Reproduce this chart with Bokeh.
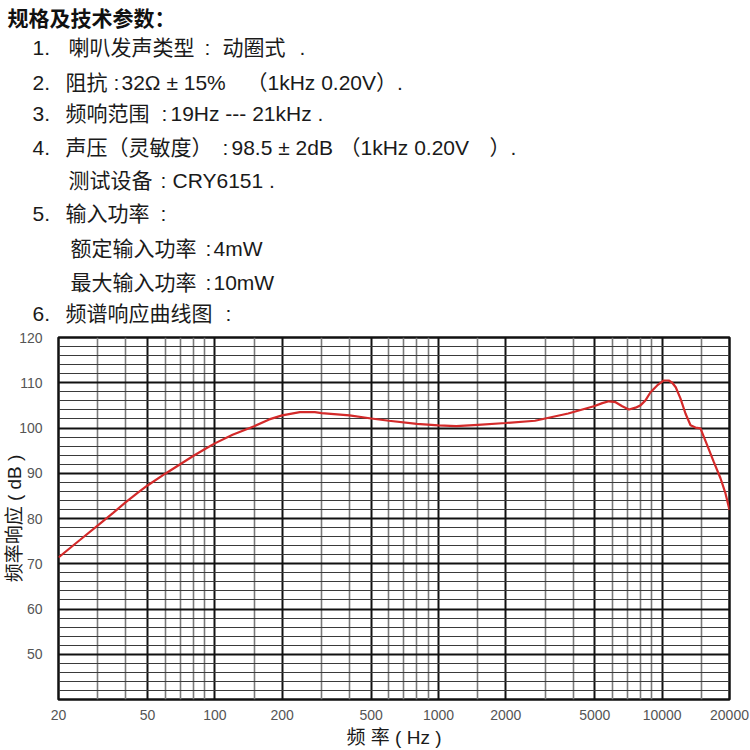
from bokeh.plotting import figure
from bokeh.layouts import column
from bokeh.models import FixedTicker, Label, PrintfTickFormatter
from bokeh.embed import file_html
from bokeh.resources import INLINE

# ---- data ----
freq_hz = [20, 25, 30, 35, 40, 45, 50, 60, 70, 80, 90, 100,
           120, 150, 175, 200, 240, 280, 300, 400, 500, 600, 800,
           1000, 1200, 1500, 2000, 2700, 3800, 4950, 5400, 5780, 6190,
           6630, 7100, 7600, 8000, 8420, 8870, 9500, 10170, 10700, 11090,
           11500, 12080, 12710, 13390, 14090, 14830, 15890, 17010, 18230, 19180,
           20000]
spl_db = [71.4, 75.3, 78.5, 81.2, 83.6, 85.6, 87.3, 89.9, 92.0, 93.8, 95.3, 96.6,
          98.5, 100.4, 101.9, 102.8, 103.5, 103.5, 103.3, 102.8, 102.1, 101.6, 100.9,
          100.6, 100.4, 100.7, 101.1, 101.6, 103.2, 104.8, 105.5, 105.9, 105.7,
          104.8, 104.1, 104.5, 105.0, 106.1, 107.9, 109.4, 110.5, 110.5, 110.0,
          109.0, 106.5, 103.2, 100.6, 100.1, 99.9, 96.2, 92.5, 88.9, 85.6,
          81.9]

x_tick_values = [20, 50, 100, 200, 500, 1000, 2000, 5000, 10000, 20000]
y_tick_values = [50, 60, 70, 80, 90, 100, 110, 120]
x_major_grid = [50, 100, 200, 500, 1000, 2000, 5000, 10000]
x_minor_grid = [30, 40, 60, 70, 80, 90, 150, 300, 400, 600, 700, 800, 900,
                1500, 3000, 4000, 6000, 7000, 8000, 9000, 15000]
y_major_grid = [50, 60, 70, 80, 90, 100, 110]
y_minor_grid = [v for v in range(42, 120, 2) if v % 10 != 0]

title_text = "规格及技术参数："
item_numbers = ["1.", "2.", "3.", "4.", "5.", "6."]
item_segments = [
    ["喇叭发声类型", ":", "动圈式", "."],
    ["阻抗", ":", "32Ω ± 15%", "（1kHz 0.20V）."],
    ["频响范围", ":", "19Hz --- 21kHz ."],
    ["声压（灵敏度）", ":", "98.5 ± 2dB", "（1kHz 0.20V", "）."],
    ["测试设备", ":", "CRY6151 ."],
    ["输入功率", ":"],
    ["额定输入功率", ":", "4mW"],
    ["最大输入功率", ":", "10mW"],
    ["频谱响应曲线图", ":"],
]
x_title = "频 率 ( Hz )"
y_title = "频率响应 ( dB )"

FONT = "Liberation Sans, Noto Sans CJK SC"
HEAD_H = 325

# ---------------- header (specification text) ----------------
head = figure(width=750, height=HEAD_H, x_range=(0, 750), y_range=(HEAD_H, 0),
              x_axis_type=None, y_axis_type=None,
              output_backend="svg", toolbar_location=None,
              min_border=0, min_border_left=0, min_border_right=0,
              min_border_top=0, min_border_bottom=0)
head.frame_align = False
head.title.visible = False
head.grid.visible = False
head.outline_line_color = None
head.background_fill_color = "white"
head.border_fill_color = "white"

head.add_layout(Label(x=7, y=16, text=title_text, text_align="left",
                      text_baseline="middle", text_font="Noto Sans CJK SC",
                      text_font_style="bold", text_font_size="21px",
                      text_color="#111111"))

num_rows_y = [47, 82, 113, 147, 213, 313]
for t, yy in zip(item_numbers, num_rows_y):
    head.add_layout(Label(x=32, y=yy, text=t, text_align="left",
                          text_baseline="middle", text_font=FONT,
                          text_font_size="21px", text_color="#1a1a1a"))

seg_rows_y = [47, 82, 113, 147, 180, 213, 248, 282, 313]
seg_rows_x = [
    [68, 204, 222, 299],
    [65, 113, 121, 246],
    [65, 161, 170],
    [65, 222, 231, 339, 489],
    [68, 160, 172],
    [65, 160],
    [70, 205, 213],
    [70, 205, 213],
    [65, 225],
]
for segs, xs, yy in zip(item_segments, seg_rows_x, seg_rows_y):
    for t, xx in zip(segs, xs):
        head.add_layout(Label(x=xx, y=yy, text=t, text_align="left",
                              text_baseline="middle", text_font=FONT,
                              text_font_size="21px", text_color="#1a1a1a"))

# ---------------- frequency response chart ----------------
p = figure(width=750, height=750 - HEAD_H, x_axis_type="log",
           x_range=(20, 20000), y_range=(40, 120),
           output_backend="svg", toolbar_location=None,
           min_border_left=58, min_border_right=21,
           min_border_top=337 - HEAD_H, min_border_bottom=50)
p.frame_align = False
p.title.visible = False
p.background_fill_color = "white"
p.border_fill_color = "white"
p.outline_line_color = "#111111"
p.outline_line_width = 2.5

p.xgrid.ticker = FixedTicker(ticks=x_major_grid, minor_ticks=x_minor_grid)
p.xgrid.grid_line_color = "#111111"
p.xgrid.grid_line_width = 2
p.xgrid.minor_grid_line_color = "#7a7a7a"
p.xgrid.minor_grid_line_width = 1.6
p.ygrid.ticker = FixedTicker(ticks=y_major_grid, minor_ticks=y_minor_grid)
p.ygrid.grid_line_color = "#111111"
p.ygrid.grid_line_width = 2
p.ygrid.minor_grid_line_color = "#3a3a3a"
p.ygrid.minor_grid_line_width = 1.2

for ax in (p.xaxis[0], p.yaxis[0]):
    ax.axis_line_color = None
    ax.major_tick_line_color = None
    ax.minor_tick_line_color = None
    ax.major_label_text_font = FONT
    ax.major_label_text_font_size = "14px"
    ax.major_label_text_color = "#555555"
    ax.axis_label_text_font = FONT
    ax.axis_label_text_font_size = "19px"
    ax.axis_label_text_font_style = "normal"
    ax.axis_label_text_color = "#1a1a1a"

p.xaxis.ticker = FixedTicker(ticks=x_tick_values)
p.xaxis.formatter = PrintfTickFormatter(format="%d")
p.xaxis.major_label_standoff = 4
p.xaxis.axis_label = x_title
p.xaxis.axis_label_standoff = 4

p.yaxis.ticker = FixedTicker(ticks=y_tick_values)
p.yaxis.formatter = PrintfTickFormatter(format="%d")
p.yaxis.major_label_standoff = 10
p.yaxis.axis_label = y_title
p.yaxis.axis_label_standoff = -9

p.line(freq_hz, spl_db, line_color="#d42a2a", line_width=2.2)

layout = column(head, p, spacing=0)
open("out.html", "w").write(file_html(layout, INLINE))
